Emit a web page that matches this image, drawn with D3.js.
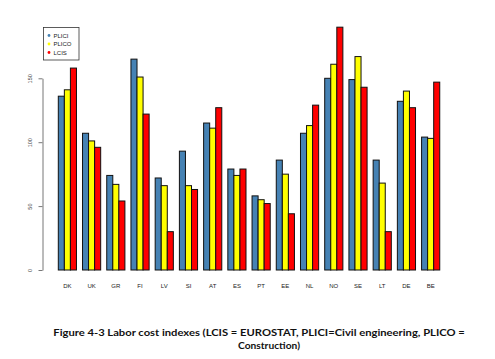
<!DOCTYPE html>
<html><head><meta charset="utf-8">
<script src="https://cdn.jsdelivr.net/npm/d3@7"></script>
<style>body{margin:0;background:#fff}svg{display:block}</style>
</head><body>
<script>
const categories = ["DK","UK","GR","FI","LV","SI","AT","ES","PT","EE","NL","NO","SE","LT","DE","BE"];
const seriesNames = ["PLICI","PLICO","LCIS"];
const plici = [136,107,74,165,72,93,115,79,58,86,107,150,149,86,132,104];
const plico = [141,101,67,151,66,66,111,74,55,75,113,161,167,68,140,103];
const lcis  = [158,96,54,122,30,63,127,79,52,44,129,190,143,30,127,147];
const yTicks = [0,50,100,150];
const colors = ["#4682B4","#FFFF00","#FF0000"];

const W = 495, H = 359;
const svg = d3.select("body").append("svg").attr("width", W).attr("height", H);

const y = d3.scaleLinear().domain([0,150]).range([270, 78.3]);
const x = d3.scaleBand().domain(categories).range([52.25, 445.8]).paddingInner(0.25).paddingOuter(0.25);
const xs = d3.scaleBand().domain(seriesNames).range([0, x.bandwidth()]);

const data = categories.map((c,i)=>({cat:c, vals:[plici[i],plico[i],lcis[i]]}));

const g = svg.append("g");
const groups = g.selectAll("g.grp").data(data).join("g").attr("class","grp")
  .attr("transform", d=>`translate(${x(d.cat)},0)`);
groups.selectAll("rect").data(d=>d.vals.map((v,j)=>({v, s:seriesNames[j], j})))
  .join("rect")
  .attr("x", d=>xs(d.s)).attr("width", xs.bandwidth())
  .attr("y", d=>y(d.v)).attr("height", d=>y(0)-y(d.v))
  .attr("fill", d=>colors[d.j]).attr("stroke","#111").attr("stroke-width",1);

// y axis
const yAxis = d3.axisLeft(y).tickValues(yTicks).tickSize(4).tickSizeOuter(0).tickPadding(6);
const ya = svg.append("g").attr("transform","translate(42.5,0)").call(yAxis);
ya.select(".domain").attr("stroke","#777");
ya.selectAll(".tick line").attr("stroke","#777");
ya.selectAll(".tick text").attr("font-family","Liberation Sans, Arial, sans-serif").attr("font-size",5.5)
  .attr("fill","#444").attr("text-anchor","middle")
  .each(function(){
    d3.select(this).attr("x",null).attr("transform",`translate(-12,0) rotate(-90)`).attr("dy","0.35em");
  });

// x labels
const xa = svg.append("g").attr("transform","translate(0,270)")
  .call(d3.axisBottom(x).tickSize(0).tickPadding(14));
xa.select(".domain").remove();
xa.selectAll(".tick text").attr("font-family","Liberation Sans, Arial, sans-serif").attr("font-size",6)
  .attr("fill","#222");

// legend
const lg = svg.append("g").attr("transform","translate(43.5,27.5)");
lg.append("rect").attr("width",35.5).attr("height",32.5).attr("fill","#fff").attr("stroke","#333").attr("stroke-width",0.8);
seriesNames.forEach((n,i)=>{
  const yy = 8 + i*8.5;
  lg.append("circle").attr("cx",5.5).attr("cy",yy).attr("r",1.4).attr("fill",colors[i]);
  lg.append("text").attr("x",10).attr("y",yy).attr("dy","0.35em")
    .attr("font-family","Liberation Sans, Arial, sans-serif").attr("font-size",6).attr("fill","#222").text(n);
});

// caption
const capFont = "Lato, 'Open Sans', sans-serif";
svg.append("text").attr("x",53.3).attr("y",336).attr("font-family",capFont)
  .attr("font-size",10).attr("font-weight","bold").attr("fill","#111")
  .attr("textLength",411.5).attr("lengthAdjust","spacingAndGlyphs")
  .text("Figure 4-3 Labor cost indexes (LCIS = EUROSTAT, PLICI=Civil engineering, PLICO =");
svg.append("text").attr("x",238).attr("y",348.8).attr("font-family",capFont)
  .attr("font-size",10).attr("font-weight","bold").attr("fill","#111")
  .attr("textLength",62).attr("lengthAdjust","spacingAndGlyphs")
  .text("Construction)");
</script>
</body></html>
